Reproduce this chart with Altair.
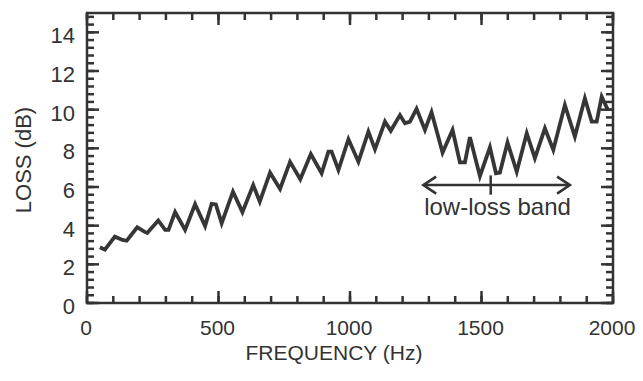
import altair as alt
import pandas as pd

# ---- data ----
freq = [49, 68, 106, 135, 151, 191, 218, 229, 271, 297, 310, 335, 373, 411, 449,
        474, 490, 512, 555, 591, 632, 657, 696, 734, 772, 811, 851, 892, 918, 930,
        956, 994, 1032, 1070, 1095, 1133, 1155, 1190, 1209, 1228, 1253, 1285, 1310,
        1352, 1390, 1418, 1437, 1456, 1494, 1532, 1555, 1570, 1599, 1634, 1672, 1703,
        1741, 1773, 1817, 1855, 1893, 1919, 1938, 1957, 1980]
loss = [2.88, 2.76, 3.43, 3.26, 3.22, 3.92, 3.69, 3.62, 4.27, 3.78, 3.78, 4.70, 3.78, 5.11, 3.98,
        5.13, 5.10, 4.13, 5.76, 4.70, 6.10, 5.24, 6.74, 5.90, 7.30, 6.40, 7.70, 6.71, 7.83, 7.83,
        6.88, 8.47, 7.31, 8.86, 7.95, 9.38, 8.91, 9.72, 9.30, 9.38, 10.04, 8.95, 9.87,
        7.78, 8.95, 7.27, 7.27, 8.58, 6.56, 8.05, 6.71, 6.75, 8.30, 6.79, 8.78, 7.49,
        9.03, 7.92, 10.24, 8.61, 10.59, 9.38, 9.38, 10.67, 10.00]

x_major = [0, 500, 1000, 1500, 2000]
x_minor = [0, 100, 200, 300, 400, 500, 600, 700, 800, 900, 1000, 1100, 1200, 1300,
           1400, 1500, 1600, 1700, 1800, 1900, 2000]
y_major = [0, 2, 4, 6, 8, 10, 12, 14]
y_minor = [0, 0.4, 0.8, 1.2, 1.6, 2, 2.4, 2.8, 3.2, 3.6, 4, 4.4, 4.8, 5.2, 5.6, 6,
           6.4, 6.8, 7.2, 7.6, 8, 8.4, 8.8, 9.2, 9.6, 10, 10.4, 10.8, 11.2, 11.6, 12,
           12.4, 12.8, 13.2, 13.6, 14, 14.4, 14.8]
x_title = ["FREQUENCY (Hz)"]
y_title = ["LOSS (dB)"]

band_x = [1279, 1836]
band_y = [6.1, 6.1]
band_head = ["left", "right"]
band_mid_x = [1535]
band_mid_y = [5.6]
band_mid_y2 = [6.6]
label_text = ["low-loss band"]
label_x = [1561]
label_y = [4.55]

FONT = "Liberation Sans"
INK = "#333333"
W, H = 526, 290
MAJ, MIN = 12, 7

df = pd.DataFrame({"freq": freq, "loss": loss})
xscale = alt.Scale(domain=[0, 2000], nice=False, zero=False)
yscale = alt.Scale(domain=[0, 15], nice=False, zero=False)


def X(field):
    return alt.X(field, scale=xscale, axis=None)


def Y(field):
    return alt.Y(field, scale=yscale, axis=None)


line = alt.Chart(df).mark_line(color="#363636", strokeWidth=3.8, strokeJoin="miter").encode(
    x=X("freq:Q"), y=Y("loss:Q"),
)


def xticks(vals, y0, y1):
    return alt.Chart(pd.DataFrame({"v": vals})).mark_rule(color=INK, strokeWidth=2.5).encode(
        x=X("v:Q"), y=alt.value(y0), y2=alt.value(y1))


def yticks(vals, x0, x1):
    return alt.Chart(pd.DataFrame({"v": vals})).mark_rule(color=INK, strokeWidth=2.5).encode(
        y=Y("v:Q"), x=alt.value(x0), x2=alt.value(x1))


ticks = [
    xticks(x_minor, H, H - MIN), xticks(x_major, H, H - MAJ),
    xticks(x_minor, 0, MIN), xticks(x_major, 0, MAJ),
    yticks(y_minor, 0, MIN), yticks(y_major, 0, MAJ),
    yticks(y_minor, W, W - MIN), yticks(y_major, W, W - MAJ),
]

# tick labels placed through the scales
xlab_df = pd.DataFrame({"v": x_major, "t": [str(v) for v in x_major]})
xlabels = alt.Chart(xlab_df).mark_text(font=FONT, fontSize=21, color=INK, align="center",
                                       baseline="top", dx=-1).encode(
    x=X("v:Q"), y=alt.value(H + 15), text="t:N")
ylab_df = pd.DataFrame({"v": y_major, "t": [str(v) for v in y_major]})
ylabels = alt.Chart(ylab_df).mark_text(font=FONT, fontSize=22, color=INK, align="right",
                                       baseline="middle", dy=4).encode(
    y=Y("v:Q"), x=alt.value(-12), text="t:N")

xtitle = alt.Chart(pd.DataFrame({"t": x_title})).mark_text(
    font=FONT, fontSize=21, color=INK, align="center", baseline="alphabetic"
).encode(x=alt.value(247), y=alt.value(H + 57), text="t:N")
ytitle = alt.Chart(pd.DataFrame({"t": y_title})).mark_text(
    font=FONT, fontSize=22, color=INK, align="center", baseline="alphabetic", angle=270
).encode(x=alt.value(-56), y=alt.value(147), text="t:N")

band_df = pd.DataFrame({"x": band_x, "y": band_y, "head": band_head})
shaft = alt.Chart(band_df).mark_line(color=INK, strokeWidth=2.5).encode(x=X("x:Q"), y=Y("y:Q"))
left_head = alt.Chart(band_df[band_df["head"] == "left"]).mark_point(
    shape="M1.5,-1L0,0L1.5,1", size=289, filled=False, strokeWidth=2.6, color=INK, opacity=1
).encode(x=X("x:Q"), y=Y("y:Q"))
right_head = alt.Chart(band_df[band_df["head"] == "right"]).mark_point(
    shape="M-1.5,-1L0,0L-1.5,1", size=289, filled=False, strokeWidth=2.6, color=INK, opacity=1
).encode(x=X("x:Q"), y=Y("y:Q"))

mid_df = pd.DataFrame({"x": band_mid_x, "y": band_mid_y, "y2": band_mid_y2})
mid_tick = alt.Chart(mid_df).mark_rule(color=INK, strokeWidth=2.5).encode(
    x=X("x:Q"), y=Y("y:Q"), y2="y2:Q",
)

label_df = pd.DataFrame({"x": label_x, "y": label_y, "t": label_text})
label = alt.Chart(label_df).mark_text(font=FONT, fontSize=24, color=INK, align="center",
                                      baseline="alphabetic").encode(
    x=X("x:Q"), y=Y("y:Q"), text="t:N",
)

chart = alt.layer(line, *ticks, xlabels, ylabels, xtitle, ytitle, shaft, left_head,
                  right_head, mid_tick, label).properties(
    width=W, height=H,
    autosize=alt.AutoSizeParams(type="none"),
    padding={"left": 79, "top": 5, "right": 22, "bottom": 68},
    background="white",
).configure_view(stroke=INK, strokeWidth=2.5)

chart.save("out.html", embed_options={"renderer": "svg", "actions": False})
